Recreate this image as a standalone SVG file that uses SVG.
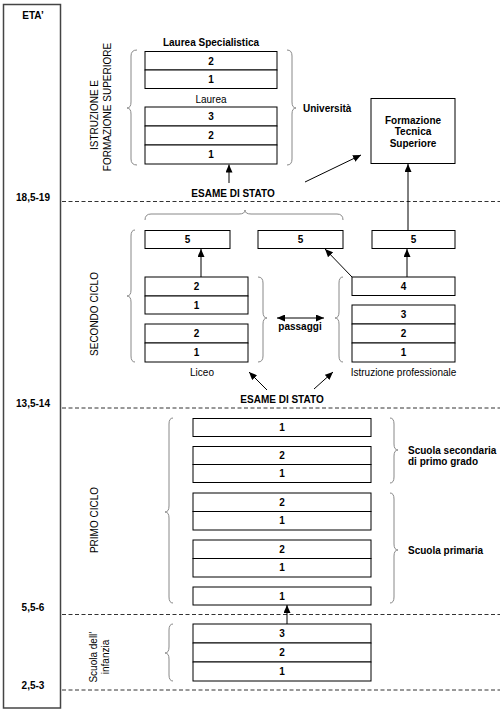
<svg xmlns="http://www.w3.org/2000/svg" width="500" height="712" viewBox="0 0 500 712">
<defs>
<marker id="ah" markerUnits="userSpaceOnUse" markerWidth="8" markerHeight="7" refX="8" refY="3.5" orient="auto-start-reverse">
<path d="M0,0 L8,3.5 L0,7 z" fill="#000"/>
</marker>
</defs>
<style>
text{font-family:"Liberation Sans",Arial,sans-serif;font-size:10px;fill:#000}
.b{font-weight:bold}
.m{text-anchor:middle}
.box{fill:#fff;stroke:#000;stroke-width:1}
.brace{fill:none;stroke:#888;stroke-width:1}
.dash{stroke:#333;stroke-width:1;stroke-dasharray:4,2.5}
.conn{stroke:#000;stroke-width:1;fill:none}
</style>
<rect width="500" height="712" fill="#fff"/>

<g id="eta-column">
<rect x="3.5" y="4.5" width="57" height="703.5" fill="#fff" stroke="#444" stroke-width="1.5"/>
<text class="b m" x="33" y="19">ETA’</text>
<text class="b m" x="33" y="201">18,5-19</text>
<text class="b m" x="33" y="407">13,5-14</text>
<text class="b m" x="33" y="611">5,5-6</text>
<text class="b m" x="33" y="689">2,5-3</text>
</g>

<g id="age-lines">
<line class="dash" x1="62" y1="201.5" x2="500" y2="201.5"/>
<line class="dash" x1="62" y1="408" x2="500" y2="408"/>
<line class="dash" x1="62" y1="614.5" x2="500" y2="614.5"/>
<line class="dash" x1="62" y1="690" x2="500" y2="690"/>
</g>

<g id="section-labels">
<text class="m" transform="translate(98,115) rotate(-90)">ISTRUZIONE E</text>
<text class="m" transform="translate(111,107) rotate(-90)">FORMAZIONE SUPERIORE</text>
<text class="m" transform="translate(98,314) rotate(-90)">SECONDO CICLO</text>
<text class="m" transform="translate(98,520) rotate(-90)">PRIMO CICLO</text>
<text class="m" transform="translate(97,657) rotate(-90)">Scuola dell’</text>
<text class="m" transform="translate(109,657) rotate(-90)">infanzia</text>
</g>

<g id="braces">
<path class="brace" d="M137,50 Q131,50 131,56 L131,102 Q131,108 127,108 Q131,108 131,114 L131,159 Q131,165 137,165"/>
<path class="brace" d="M287,50 Q292,50 292,56 L292,102 Q292,108 296,108 Q292,108 292,114 L292,159 Q292,165 287,165"/>
<path class="brace" d="M145,220 Q145,214 151,214 L239,214 Q245,214 245,210 Q245,214 251,214 L337,214 Q343,214 343,220"/>
<path class="brace" d="M135,230 Q131,230 131,236 L131,290 Q131,296 127,296 Q131,296 131,302 L131,356 Q131,362 135,362"/>
<path class="brace" d="M258,277 Q263,277 263,283 L263,312 Q263,318 267,318 Q263,318 263,324 L263,356 Q263,362 258,362"/>
<path class="brace" d="M343,277 Q339,277 339,283 L339,312 Q339,318 335,318 Q339,318 339,324 L339,356 Q339,362 343,362"/>
<path class="brace" d="M173,418 Q169,418 169,424 L169,506 Q169,512 165,512 Q169,512 169,518 L169,597 Q169,603 173,603"/>
<path class="brace" d="M390,418 Q394,418 394,424 L394,444 Q394,450 398,450 Q394,450 394,456 L394,477 Q394,483 390,483"/>
<path class="brace" d="M390,493 Q394,493 394,499 L394,544 Q394,550 398,550 Q394,550 394,556 L394,597 Q394,603 390,603"/>
<path class="brace" d="M173,624 Q169,624 169,630 L169,647 Q169,653 165,653 Q169,653 169,659 L169,675 Q169,681 173,681"/>
</g>

<g id="universita">
<text class="b m" x="211" y="46">Laurea Specialistica</text>
<rect class="box" x="145" y="51.5" width="132" height="18.5"/>
<rect class="box" x="145" y="70" width="132" height="18.5"/>
<text class="b m" x="211" y="64.5">2</text>
<text class="b m" x="211" y="83">1</text>
<text class="m" x="211" y="103">Laurea</text>
<rect class="box" x="145" y="107" width="132" height="19"/>
<rect class="box" x="145" y="126" width="132" height="19"/>
<rect class="box" x="145" y="145" width="132" height="19"/>
<text class="b m" x="211" y="120">3</text>
<text class="b m" x="211" y="139">2</text>
<text class="b m" x="211" y="158">1</text>
<text class="b" x="303" y="112">Università</text>
</g>

<g id="fts">
<rect class="box" x="371" y="98.5" width="84" height="65"/>
<text class="b m" x="413" y="123.5">Formazione</text>
<text class="b m" x="413" y="135">Tecnica</text>
<text class="b m" x="413" y="146.5">Superiore</text>
</g>

<g id="esame-1">
<text class="b m" x="233" y="197">ESAME DI STATO</text>
</g>

<g id="quinto-anno">
<rect class="box" x="145" y="230.5" width="85" height="18"/>
<text class="b m" x="187.5" y="243">5</text>
<rect class="box" x="258" y="230.5" width="85" height="18"/>
<text class="b m" x="300.5" y="243">5</text>
<rect class="box" x="372" y="230.5" width="83" height="18"/>
<text class="b m" x="413.5" y="243">5</text>
</g>

<g id="liceo">
<rect class="box" x="145" y="277" width="103" height="19"/>
<rect class="box" x="145" y="296" width="103" height="18"/>
<text class="b m" x="196.5" y="290">2</text>
<text class="b m" x="196.5" y="308.5">1</text>
<rect class="box" x="145" y="324" width="103" height="19"/>
<rect class="box" x="145" y="343" width="103" height="19"/>
<text class="b m" x="196.5" y="337">2</text>
<text class="b m" x="196.5" y="356">1</text>
<text class="m" x="202" y="376">Liceo</text>
</g>

<g id="istruzione-professionale">
<rect class="box" x="352" y="277" width="103" height="18.5"/>
<text class="b m" x="403.5" y="290">4</text>
<rect class="box" x="352" y="305" width="103" height="19"/>
<rect class="box" x="352" y="324" width="103" height="19"/>
<rect class="box" x="352" y="343" width="103" height="19"/>
<text class="b m" x="403.5" y="318">3</text>
<text class="b m" x="403.5" y="337">2</text>
<text class="b m" x="403.5" y="356">1</text>
<text class="m" x="403.5" y="376">Istruzione professionale</text>
</g>

<g id="passaggi">
<text class="b m" x="300" y="330">passaggi</text>
</g>

<g id="esame-2">
<text class="b m" x="282" y="403">ESAME DI STATO</text>
</g>

<g id="primo-ciclo">
<rect class="box" x="193" y="418.5" width="178" height="18"/>
<text class="b m" x="282" y="431">1</text>
<rect class="box" x="193" y="446.5" width="178" height="18"/>
<rect class="box" x="193" y="464.5" width="178" height="18"/>
<text class="b m" x="282" y="459">2</text>
<text class="b m" x="282" y="477">1</text>
<rect class="box" x="193" y="493" width="178" height="18.5"/>
<rect class="box" x="193" y="511.5" width="178" height="18.5"/>
<text class="b m" x="282" y="505.5">2</text>
<text class="b m" x="282" y="524">1</text>
<rect class="box" x="193" y="540" width="178" height="18.5"/>
<rect class="box" x="193" y="558.5" width="178" height="18.5"/>
<text class="b m" x="282" y="552.5">2</text>
<text class="b m" x="282" y="571">1</text>
<rect class="box" x="193" y="587" width="178" height="18"/>
<text class="b m" x="282" y="599.5">1</text>
<text class="b" x="408" y="454">Scuola secondaria</text>
<text class="b" x="408" y="465">di primo grado</text>
<text class="b" x="408" y="554">Scuola primaria</text>
</g>

<g id="infanzia">
<rect class="box" x="193" y="624" width="178" height="19"/>
<rect class="box" x="193" y="643" width="178" height="19"/>
<rect class="box" x="193" y="662" width="178" height="19"/>
<text class="b m" x="282" y="637">3</text>
<text class="b m" x="282" y="656">2</text>
<text class="b m" x="282" y="675">1</text>
</g>

<g id="connectors">
<line class="conn" x1="229" y1="183" x2="229" y2="164.5" marker-end="url(#ah)"/>
<line class="conn" x1="305" y1="182" x2="361" y2="155" marker-end="url(#ah)"/>
<line class="conn" x1="408" y1="230.5" x2="408" y2="164" marker-end="url(#ah)"/>
<line class="conn" x1="201" y1="277" x2="201" y2="249" marker-end="url(#ah)"/>
<line class="conn" x1="407" y1="277" x2="407" y2="249" marker-end="url(#ah)"/>
<line class="conn" x1="352" y1="277" x2="325" y2="249" marker-end="url(#ah)"/>
<line class="conn" x1="277" y1="318" x2="324" y2="318" marker-start="url(#ah)" marker-end="url(#ah)"/>
<line class="conn" x1="267" y1="390" x2="249" y2="372" marker-end="url(#ah)"/>
<line class="conn" x1="314" y1="389" x2="333" y2="372" marker-end="url(#ah)"/>
<line class="conn" x1="287" y1="624" x2="287" y2="605" marker-end="url(#ah)"/>
</g>
</svg>
